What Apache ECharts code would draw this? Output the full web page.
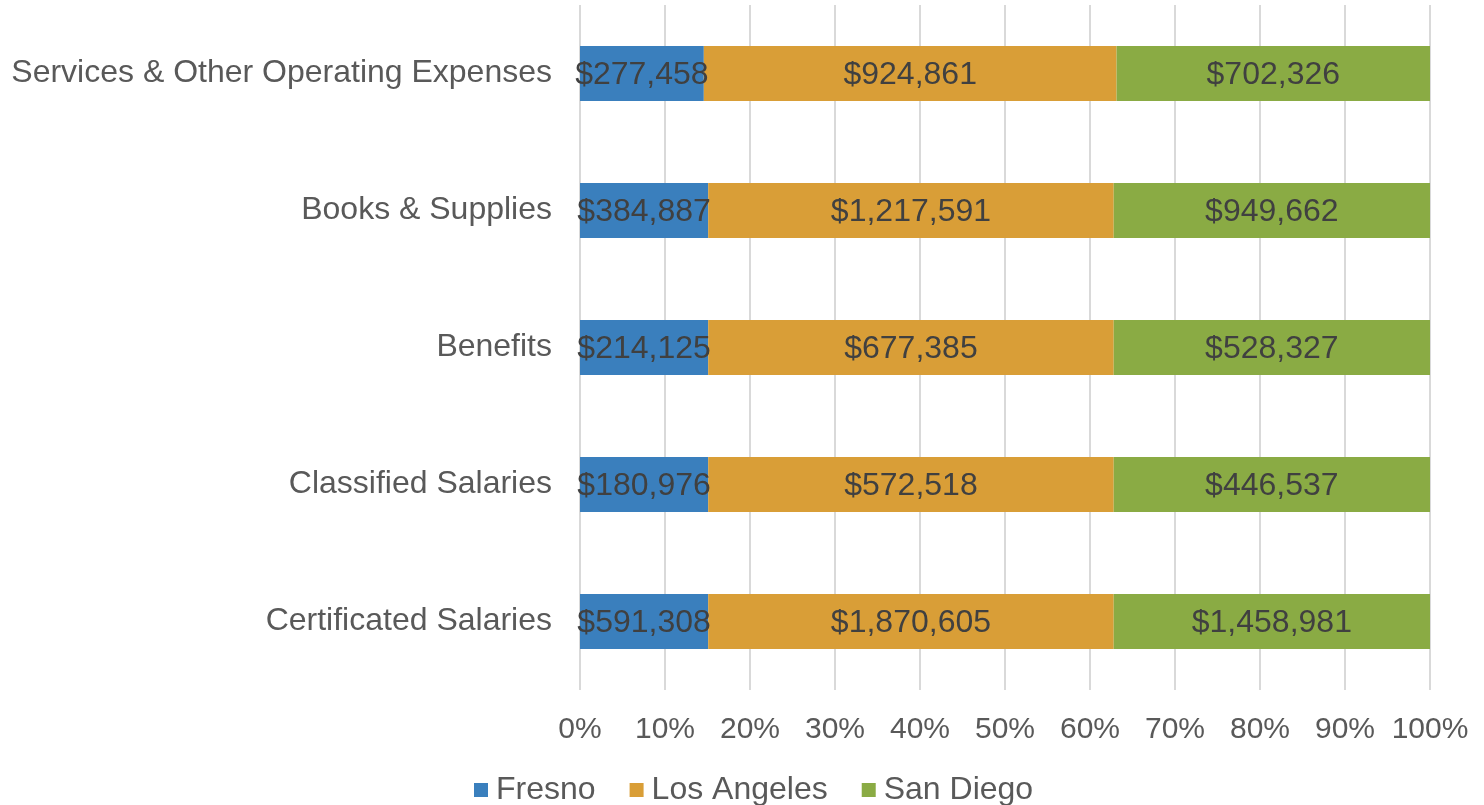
<!DOCTYPE html>
<html>
<head>
<meta charset="utf-8">
<title>Expenses by district</title>
<script src="https://cdn.jsdelivr.net/npm/echarts@6/dist/echarts.min.js"></script>
<style>
  html, body { margin: 0; padding: 0; background: #fff; }
  #chart { width: 1484px; height: 805px; }
</style>
</head>
<body>
<div id="chart"></div>
<script>
// categories, bottom to top
const categories = ['Certificated Salaries', 'Classified Salaries', 'Benefits', 'Books & Supplies', 'Services & Other Operating Expenses']
const fresno = [591308, 180976, 214125, 384887, 277458]
const losAngeles = [1870605, 572518, 677385, 1217591, 924861]
const sanDiego = [1458981, 446537, 528327, 949662, 702326]
const seriesNames = ['Fresno', 'Los Angeles', 'San Diego']
const colors = ['#3a7fbd', '#d99e37', '#8aab44']

const totals = categories.map((c, i) => fresno[i] + losAngeles[i] + sanDiego[i])
const fmt = v => '$' + v.toLocaleString('en-US')

const makeSeries = (name, values, color) => ({
  name: name,
  type: 'bar',
  stack: 'total',
  barWidth: 55,
  itemStyle: { color: color },
  label: {
    show: true,
    position: 'inside',
    offset: [0, 2],
    color: '#404040',
    fontSize: 32,
    fontFamily: 'Liberation Sans',
    formatter: p => fmt(values[p.dataIndex])
  },
  data: values.map((v, i) => v / totals[i] * 100)
})

const chart = echarts.init(document.getElementById('chart'))
chart.setOption({
  animation: false,
  color: colors,
  textStyle: { fontFamily: 'Liberation Sans' },
  grid: { left: 580, right: 54, top: 5, bottom: 115, containLabel: false },
  legend: {
    data: seriesNames,
    top: 769,
    left: 469,
    icon: 'rect',
    itemWidth: 14,
    itemHeight: 14,
    itemGap: 34,
    textStyle: { fontSize: 32, color: '#595959', fontFamily: 'Liberation Sans', padding: [0, 0, 0, 3] }
  },
  xAxis: {
    type: 'value',
    min: 0,
    max: 100,
    interval: 10,
    axisLine: { show: false },
    axisTick: { show: false },
    splitLine: { show: true, lineStyle: { color: '#d9d9d9', width: 2 } },
    axisLabel: {
      margin: 25,
      fontSize: 30,
      color: '#595959',
      formatter: v => v + '%'
    }
  },
  yAxis: {
    type: 'category',
    data: categories,
    axisLine: { show: false },
    axisTick: { show: false },
    axisLabel: { margin: 28, fontSize: 32, color: '#595959', padding: [4, 0, 0, 0] }
  },
  series: [
    makeSeries(seriesNames[0], fresno, colors[0]),
    makeSeries(seriesNames[1], losAngeles, colors[1]),
    makeSeries(seriesNames[2], sanDiego, colors[2])
  ]
})
</script>
</body>
</html>
